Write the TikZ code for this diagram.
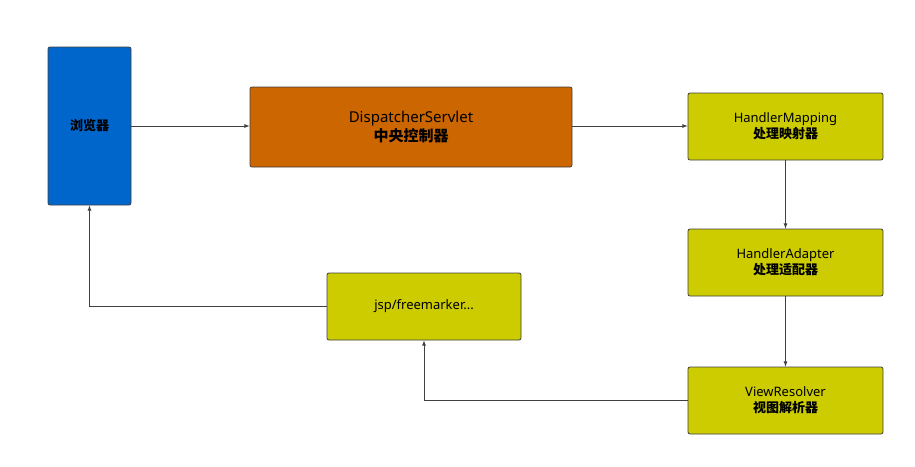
\documentclass[tikz,border=0pt]{standalone}
\usepackage{fontspec}
\setmainfont{Noto Sans}
\newfontfamily\cjk{Noto Sans CJK SC}
\usetikzlibrary{positioning}
\tikzset{
  box/.style={draw=black!75, thick, rounded corners=2pt, font=\bfseries, align=center, inner sep=0pt},
  link/.style={draw=black!75, thick, -latex}
}
\begin{document}
\begin{tikzpicture}[x=1pt,y=-1pt]
\useasboundingbox (0,0) rectangle (915,466);
% Browser
\node[box, fill={rgb,255:red,0;green,102;blue,204}, minimum width=83pt, minimum height=158pt, font=\bfseries\fontsize{13}{15}\selectfont]
  (browser) at (89.5,126) {\cjk\bfseries 浏览器};
% Dispatcher
\node[box, fill={rgb,255:red,204;green,102;blue,0}, minimum width=322pt, minimum height=80pt, font=\bfseries\fontsize{15}{19}\selectfont]
  (dispatcher) at (411,127) {DispatcherServlet\\{\cjk\bfseries 中央控制器}};
% Handler chain
\node[box, fill={rgb,255:red,204;green,204;blue,0}, minimum width=195pt, minimum height=67pt, font=\bfseries\fontsize{13}{16}\selectfont]
  (mapping) at (785.5,126.5) {HandlerMapping\\{\cjk\bfseries 处理映射器}};
\node[box, fill={rgb,255:red,204;green,204;blue,0}, minimum width=195pt, minimum height=67pt, font=\bfseries\fontsize{13}{16}\selectfont]
  (adapter) at (785.5,262.5) {HandlerAdapter\\{\cjk\bfseries 处理适配器}};
\node[box, fill={rgb,255:red,204;green,204;blue,0}, minimum width=195pt, minimum height=67pt, font=\bfseries\fontsize{13}{16}\selectfont]
  (resolver) at (785.5,400.5) {ViewResolver\\{\cjk\bfseries 视图解析器}};
% View
\node[box, fill={rgb,255:red,204;green,204;blue,0}, minimum width=194pt, minimum height=67pt, font=\bfseries\fontsize{13}{16}\selectfont]
  (view) at (424,306.5) {jsp/freemarker...};

% Arrows
\draw[link] (browser.east |- 0,126) -- (dispatcher.west |- 0,126);
\draw[link] (dispatcher.east |- 0,126) -- (mapping.west |- 0,126);
\draw[link] (mapping) -- (adapter);
\draw[link] (adapter) -- (resolver);
\draw[link] (resolver.west) -| (view.south);
\draw[link] (view.west) -| (browser.south);
\end{tikzpicture}
\end{document}
